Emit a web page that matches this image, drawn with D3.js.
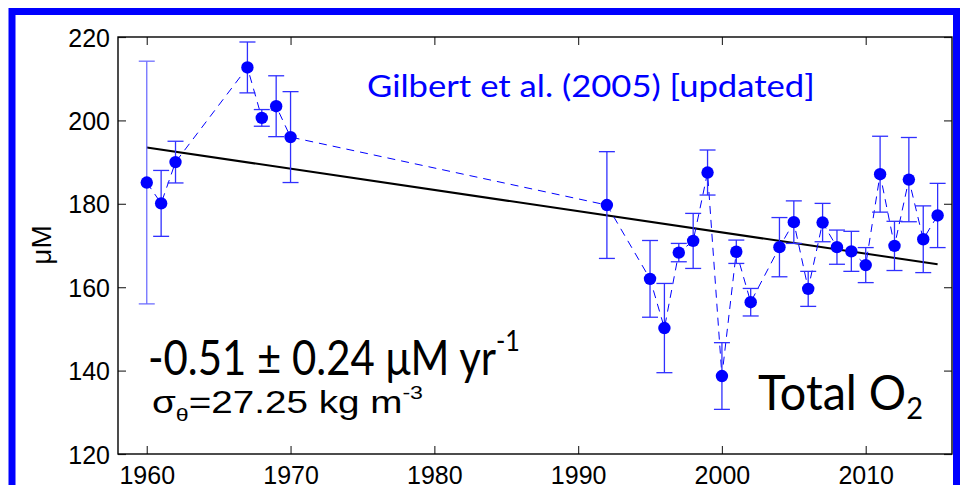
<!DOCTYPE html>
<html>
<head>
<meta charset="utf-8">
<script src="https://cdn.jsdelivr.net/npm/d3@7"></script>
<style>
  html, body { margin: 0; padding: 0; background: #fff; }
  svg { display: block; }
</style>
</head>
<body>
<div id="chart"></div>
<script>
// ---- data ----
const years = [1960,1961,1962,1967,1968,1969,1970,1992,1995,1996,1997,1998,1999,2000,2001,2002,2004,2005,2006,2007,2008,2009,2010,2011,2012,2013,2014,2015];
const o2 = [185.1,180.1,190.0,212.7,200.6,203.4,196.0,179.7,162.0,150.2,168.3,171.1,187.5,138.7,168.5,156.4,169.6,175.6,159.6,175.5,169.6,168.6,165.3,187.1,169.9,185.8,171.5,177.2];
const err = [29.1,7.9,5.0,6.1,2.0,7.3,10.9,12.8,9.2,10.7,2.2,6.6,5.4,8.0,2.8,3.3,7.1,5.1,4.2,4.6,4.1,4.8,4.2,9.1,5.9,10.1,8.0,7.7];
const trendYears = [1960, 2015];
const trendValues = [193.5, 165.5];
const xTicks = [1960,1970,1980,1990,2000,2010];
const yTicks = [120,140,160,180,200,220];
const xDomain = [1958, 2016];
const yDomain = [120, 220];

const W = 960, H = 485;
const plot = {left: 118, right: 952, top: 37, bottom: 454};

const svg = d3.select("#chart").append("svg").attr("width", W).attr("height", H);
svg.append("rect").attr("width", W).attr("height", H).attr("fill", "#fff");

// blue frame
svg.append("rect").attr("x", 12).attr("y", 11.5).attr("width", 944.5).attr("height", 520)
  .attr("fill", "none").attr("stroke", "#0000ff").attr("stroke-width", 7);

const x = d3.scaleLinear().domain(xDomain).range([plot.left, plot.right]);
const y = d3.scaleLinear().domain(yDomain).range([plot.bottom, plot.top]);

const axisFont = "'Liberation Sans', Arial, Helvetica, sans-serif";
const calFont = "Lato, 'Open Sans', sans-serif";

function styleAxis(g) {
  g.select(".domain").remove();
  g.selectAll(".tick line").attr("stroke", "#333").attr("stroke-width", 1.2);
}
const tl = 8;
const gB = svg.append("g").attr("transform", `translate(0,${plot.bottom})`)
  .call(d3.axisBottom(x).tickValues(xTicks).tickSizeInner(-tl).tickSizeOuter(0).tickFormat(d3.format("d")));
const gT = svg.append("g").attr("transform", `translate(0,${plot.top})`)
  .call(d3.axisTop(x).tickValues(xTicks).tickSizeInner(-tl).tickSizeOuter(0).tickFormat(""));
const gL = svg.append("g").attr("transform", `translate(${plot.left},0)`)
  .call(d3.axisLeft(y).tickValues(yTicks).tickSizeInner(-tl).tickSizeOuter(0).tickFormat(d3.format("d")));
const gR = svg.append("g").attr("transform", `translate(${plot.right},0)`)
  .call(d3.axisRight(y).tickValues(yTicks).tickSizeInner(-tl).tickSizeOuter(0).tickFormat(""));
[gB, gT, gL, gR].forEach(styleAxis);

gB.selectAll(".tick text").attr("font-family", axisFont).attr("font-size", 25)
  .attr("fill", "#000").attr("y", 0).attr("dy", 0).attr("transform", "translate(0,30)")
  .attr("text-anchor", "middle");
gL.selectAll(".tick text").attr("font-family", axisFont).attr("font-size", 25)
  .attr("fill", "#000").attr("x", -8).attr("dy", "0.36em").attr("text-anchor", "end");

// box
svg.append("rect").attr("x", plot.left).attr("y", plot.top)
  .attr("width", plot.right - plot.left).attr("height", plot.bottom - plot.top)
  .attr("fill", "none").attr("stroke", "#000").attr("stroke-width", 1.4);

// y label
svg.append("text").attr("transform", "translate(51,245) rotate(-90)")
  .attr("text-anchor", "middle").attr("font-family", axisFont).attr("font-size", 28)
  .text("μM");

// trend line
svg.append("line")
  .attr("x1", x(trendYears[0])).attr("y1", y(trendValues[0]))
  .attr("x2", x(trendYears[1])).attr("y2", y(trendValues[1]))
  .attr("stroke", "#000").attr("stroke-width", 2);

const pts = years.map((yr, i) => ({yr, v: o2[i], e: err[i]}));

// dashed connecting line
svg.append("path").datum(pts)
  .attr("d", d3.line().x(d => x(d.yr)).y(d => y(d.v)))
  .attr("fill", "none").attr("stroke", "#0000ff").attr("stroke-width", 1)
  .attr("stroke-dasharray", "8,6");

// error bars
const eb = svg.append("g");
pts.forEach((d, i) => {
  const cx = x(d.yr), cap = 8;
  const col = i === 0 ? "#6f6fff" : "#3030ff";
  const g = eb.append("g").attr("stroke", col).attr("stroke-width", 1.3);
  g.append("line").attr("x1", cx).attr("x2", cx).attr("y1", y(d.v - d.e)).attr("y2", y(d.v + d.e));
  g.append("line").attr("x1", cx - cap).attr("x2", cx + cap).attr("y1", y(d.v + d.e)).attr("y2", y(d.v + d.e));
  g.append("line").attr("x1", cx - cap).attr("x2", cx + cap).attr("y1", y(d.v - d.e)).attr("y2", y(d.v - d.e));
});

// markers
svg.append("g").selectAll("circle").data(pts).join("circle")
  .attr("cx", d => x(d.yr)).attr("cy", d => y(d.v)).attr("r", 6.2)
  .attr("fill", "#0000ff");

// helper: text at given size, squeezed horizontally to span the target width
function label(x0, y0, size, target, family, fill) {
  const g = svg.append("g");
  const t = g.append("text").attr("x", 0).attr("y", 0)
    .attr("font-family", family).attr("font-size", size).attr("fill", fill);
  return {t, done() {
    const w = t.node().getComputedTextLength();
    g.attr("transform", `translate(${x0},${y0}) scale(${target / w},1)`);
  }};
}

// Gilbert label
const lG = label(367, 97, 30.5, 448, calFont, "#0000ff");
lG.t.text("Gilbert et al. (2005) [updated]");
lG.done();

// trend text
const lR = label(148, 375, 49, 372, calFont, "#000");
lR.t.append("tspan").text("-0.51 ± 0.24 μM yr");
lR.t.append("tspan").attr("font-size", "0.6em").attr("dy", "-0.8em").text("-1");
lR.done();

// sigma text
const lS = label(152, 413, 32, 271, axisFont, "#000");
lS.t.append("tspan").text("σ");
lS.t.append("tspan").attr("font-size", "0.6em").attr("dy", "0.4em").text("θ");
lS.t.append("tspan").attr("dy", "-0.24em").text("=27.25 kg m");
lS.t.append("tspan").attr("font-size", "0.6em").attr("dy", "-0.72em").text("-3");
lS.done();

// Total O2
const lO = label(758, 410, 49, 165, calFont, "#000");
lO.t.append("tspan").text("Total O");
lO.t.append("tspan").attr("font-size", "0.62em").attr("dy", "0.28em").text("2");
lO.done();
</script>
</body>
</html>
